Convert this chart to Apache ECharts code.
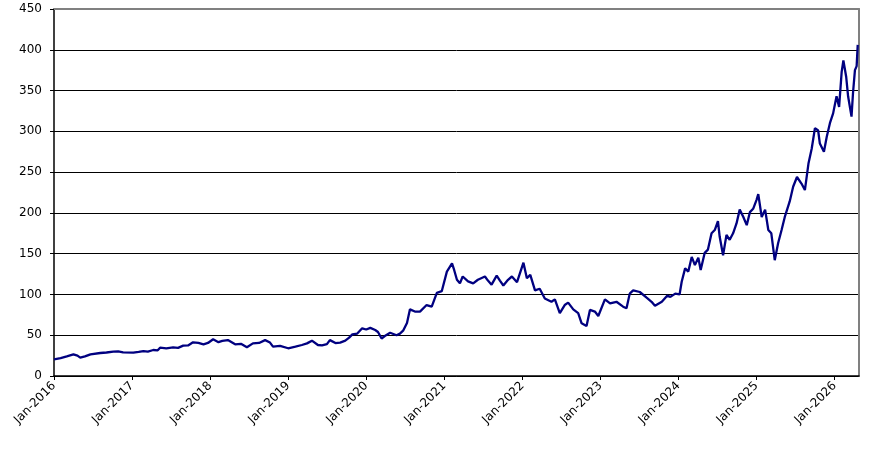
<!DOCTYPE html>
<html>
<head>
<meta charset="utf-8">
<script src="https://cdn.jsdelivr.net/npm/echarts@6/dist/echarts.min.js"></script>
<style>
html,body{margin:0;padding:0;background:#fff;}
#chart{width:883px;height:449px;}
</style>
</head>
<body>
<div id="chart"></div>
<script>
const dates = [
'2016-01-01','2016-02-01','2016-03-01','2016-04-01','2016-04-20','2016-05-03','2016-05-25','2016-06-20','2016-08-05','2016-09-03',
'2016-10-05','2016-10-28','2016-11-20','2017-01-07','2017-02-01','2017-02-23','2017-03-16','2017-04-10','2017-05-01','2017-05-12',
'2017-06-10','2017-07-12','2017-08-04','2017-08-28','2017-09-20','2017-10-13','2017-11-07','2017-12-01','2017-12-22','2018-01-15',
'2018-02-09','2018-02-27','2018-03-25','2018-04-28','2018-05-25','2018-06-22','2018-07-20','2018-08-18','2018-09-15','2018-10-08',
'2018-10-22','2018-11-24','2019-01-01','2019-02-04','2019-03-06','2019-03-30','2019-04-22','2019-05-20','2019-06-08','2019-07-01',
'2019-07-15','2019-08-10','2019-09-01','2019-09-25','2019-10-13','2019-10-28','2019-11-20','2019-12-13','2020-01-01','2020-01-20',
'2020-02-12','2020-02-25','2020-03-13','2020-03-28','2020-04-22','2020-05-22','2020-06-07','2020-06-23','2020-07-10','2020-07-24',
'2020-08-16','2020-09-09','2020-10-10','2020-11-03','2020-11-27','2020-12-20','2021-01-13','2021-02-06','2021-02-16','2021-03-01',
'2021-03-15','2021-03-28','2021-04-22','2021-05-16','2021-06-07','2021-07-10','2021-07-24','2021-08-10','2021-09-03','2021-09-18',
'2021-10-04','2021-10-26','2021-11-13','2021-12-07','2021-12-14','2022-01-06','2022-01-22','2022-02-07','2022-03-01','2022-03-23',
'2022-04-16','2022-05-17','2022-06-02','2022-06-25','2022-07-18','2022-08-03','2022-08-27','2022-09-19','2022-10-05','2022-10-28',
'2022-11-13','2022-12-06','2022-12-22','2023-01-22','2023-02-15','2023-03-17','2023-04-17','2023-05-03','2023-05-18','2023-06-03',
'2023-07-04','2023-08-05','2023-08-28','2023-09-13','2023-10-15','2023-11-09','2023-11-24','2023-12-17','2024-01-06','2024-01-16',
'2024-02-01','2024-02-16','2024-03-03','2024-03-18','2024-04-03','2024-04-14','2024-05-03','2024-05-18','2024-06-04','2024-06-19',
'2024-07-04','2024-07-12','2024-07-28','2024-08-13','2024-08-28','2024-09-13','2024-09-29','2024-10-14','2024-10-31','2024-11-16',
'2024-12-01','2024-12-16','2025-01-01','2025-01-09','2025-01-25','2025-02-10','2025-02-25','2025-03-11','2025-03-27','2025-04-12',
'2025-04-28','2025-05-13','2025-06-05','2025-06-21','2025-07-09','2025-07-30','2025-08-15','2025-09-01','2025-09-16','2025-10-01',
'2025-10-16','2025-10-24','2025-11-12','2025-11-25','2025-12-10','2025-12-25','2026-01-10','2026-01-22','2026-02-03','2026-02-11',
'2026-02-24','2026-03-05','2026-03-21','2026-03-28','2026-04-06','2026-04-14','2026-04-19'
];
const values = [
20.5,22,24,26.6,25,22.5,24,26.6,28.2,28.8,
29.8,30.3,29,28.6,29.5,30.6,30,31.9,31.5,34.7,
34,35,34.5,37.2,37.5,41.3,40.5,38.8,40.5,45,
41.5,43,44,38.8,39.5,35.2,40,40.5,44,41,
36,37,34,36,38,40,43.3,38,37.5,39,
44,40.4,41,43.3,47,51,52,58.5,57,59,
56.4,54,46,49,53,50,52,56,65,81.7,
79,79,87,85,102,104,128,138,130,118,
113.6,122,116,113.6,118,122,117,112,123,117,
111,118,122,115,116,139,120,124,105,107,
95,91,94,77,87,90,81.7,77,64.6,61.3,
81,79,73.6,94,89,91,85,83,101,105,
103,96,91,86,91,98.5,97,101,100,115.6,
132,128,146,136,145,130,151,155,175,179,
190,171,148,173,167,175,187,204,195,185,
201,205,216,223,195,204,179,175,142,163,
179,195,214,232,244,236,228,261,279,304,
301,285,275,293,310,322,343,330,373,387,
367,343,318,347,375,380,406
];
const xStartYear = 2016;
const xEndDate = '2026-04-25';
const yTicks = [0,50,100,150,200,250,300,350,400,450];

function toYear(s){
  const d = new Date(s + 'T00:00:00Z');
  const y = d.getUTCFullYear();
  const a = Date.UTC(y,0,1), b = Date.UTC(y+1,0,1);
  return y + (d.getTime()-a)/(b-a);
}
const seriesData = dates.map((d,i)=>[toYear(d), values[i]]);

const font = 'DejaVu Sans';
const chart = echarts.init(document.getElementById('chart'), null, {renderer:'canvas'});
chart.setOption({
  animation:false,
  backgroundColor:'#ffffff',
  grid:{left:54, right:24, top:9, bottom:73, containLabel:false},
  xAxis:[{
    type:'value', min:xStartYear, max:toYear(xEndDate), interval:1,
    axisLine:{show:true, lineStyle:{color:'#000', width:1.5}},
    axisTick:{show:true, inside:false, length:4, lineStyle:{color:'#000', width:1}},
    axisLabel:{show:true, rotate:45, margin:8, color:'#000', fontFamily:font, fontSize:12,
      showMaxLabel:false,
      formatter:function(v){return 'Jan-' + Math.round(v);}},
    splitLine:{show:false}
  },{
    type:'value', position:'top', min:xStartYear, max:toYear(xEndDate),
    axisLine:{show:true, onZero:false, lineStyle:{color:'#808080', width:2}},
    axisTick:{show:false}, axisLabel:{show:false}, splitLine:{show:false}
  }],
  yAxis:[{
    type:'value', min:yTicks[0], max:yTicks[yTicks.length-1], interval:50,
    axisLine:{show:true, lineStyle:{color:'#000', width:1.5}},
    axisTick:{show:true, inside:false, length:4, lineStyle:{color:'#000', width:1}},
    axisLabel:{color:'#000', fontFamily:font, fontSize:12, margin:12},
    splitLine:{show:true, showMaxLine:false, lineStyle:{color:'#000', width:1}}
  },{
    type:'value', position:'right', min:0, max:450,
    axisLine:{show:true, onZero:false, lineStyle:{color:'#808080', width:2}},
    axisTick:{show:false}, axisLabel:{show:false}, splitLine:{show:false}
  }],
  series:[{
    type:'line', xAxisIndex:0, yAxisIndex:0,
    data:seriesData, showSymbol:false, symbol:'none',
    lineStyle:{color:'#000080', width:2.3}, z:5
  }]
});
</script>
</body>
</html>
